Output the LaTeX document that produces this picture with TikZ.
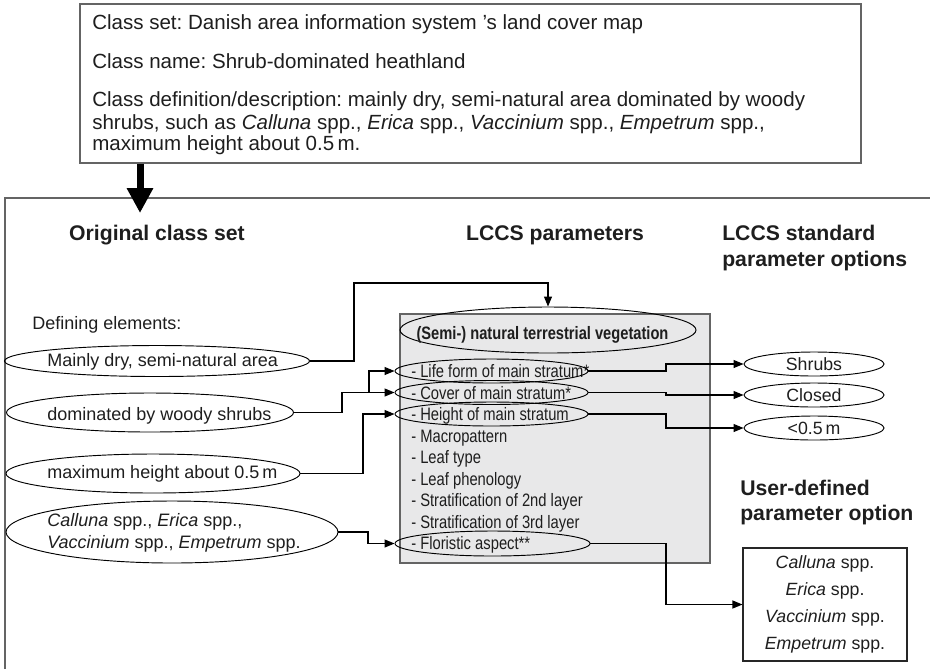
\documentclass[tikz,border=0pt]{standalone}
\usepackage{fontspec}
\setmainfont{Liberation Sans}
\newfontfamily\listfont[FakeStretch=0.82]{Liberation Sans}
\newfontfamily\semifont[FakeStretch=0.815]{Liberation Sans}
\usetikzlibrary{arrows.meta,shapes.geometric}
\frenchspacing

\definecolor{ink}{RGB}{30,30,30}
\definecolor{rulegray}{RGB}{100,100,100}
\definecolor{panelfill}{RGB}{232,232,233}

\tikzset{
  boxtext/.style={font=\fontsize{15.4}{18}\selectfont, anchor=base west, inner sep=0pt, text=ink},
  heading/.style={font=\fontsize{15.9}{19}\selectfont\bfseries, inner sep=0pt, text=ink},
  plain/.style={font=\fontsize{13.5}{16}\selectfont, inner sep=0pt, text=ink},
  listitem/.style={font=\listfont\fontsize{13.5}{16}\selectfont, anchor=base west, inner sep=0pt, text=ink},
  semitext/.style={font=\semifont\bfseries\fontsize{13.5}{16}\selectfont, anchor=base, inner sep=0pt, text=ink},
  oval/.style={ellipse, draw=black, line width=0.7pt, inner sep=0pt},
  itemoval/.style={oval, minimum width=144.75pt, minimum height=18pt},
  optoval/.style={oval, minimum width=105pt, minimum height=18pt,
    font=\fontsize{13.3}{16}\selectfont, text=ink},
  descbox/.style={rectangle, draw=rulegray, line width=1.1pt, inner sep=0pt,
    minimum width=585.75pt, minimum height=119.25pt},
  panelbox/.style={rectangle, draw=rulegray, fill=panelfill, line width=1pt, inner sep=0pt,
    minimum width=232.5pt, minimum height=186.75pt},
  speciesbox/.style={rectangle, draw=black!85, line width=0.8pt, inner sep=0pt,
    minimum width=123pt, minimum height=84.75pt, align=center,
    font=\fontsize{13.3}{20.25}\selectfont, text=ink},
  framerule/.style={draw=rulegray, line width=1.1pt},
  conn/.style={draw=black, line width=0.8pt, -{Triangle[length=7.5pt,width=6pt]}},
  bigarrow/.style={draw=black, line width=5.25pt, -{Triangle[length=18.75pt,width=18.75pt]}},
}

\begin{document}
\begin{tikzpicture}[x=0.75pt,y=-0.75pt]
\useasboundingbox (0,0) rectangle (930,669);

% outer frame, open towards the right and the bottom
\draw[framerule] (5,669) |- (930,198);

% class description
\node[descbox] (desc) at (470.5,83.5) {};
\node[boxtext] (d1) at (92,29) {Class set: Danish area information system ’s land cover map};
\node[boxtext] (d2) at (92,68) {Class name: Shrub-dominated heathland};
\node[boxtext] (d3) at (92,106) {Class definition/description: mainly dry, semi-natural area dominated by woody};
\node[boxtext] (d4) at (92,129) {shrubs, such as \textit{Calluna} spp., \textit{Erica} spp., \textit{Vaccinium} spp., \textit{Empetrum} spp.,};
\node[boxtext] (d5) at (92,150) {maximum height about 0.5\,m.};

\coordinate (tip) at (140,213);
\draw[bigarrow] (desc.south -| tip) -- (tip);

% column headings
\node[heading, anchor=base] (h1) at (157,240.5) {Original class set};
\node[heading, anchor=base] (h2) at (555,240.5) {LCCS parameters};
\node[heading, anchor=base west] (h3a) at (722,240.5) {LCCS standard};
\node[heading, anchor=base west] (h3b) at (722,266) {parameter options};
\node[heading, anchor=base west] (h4a) at (740,495.5) {User-defined};
\node[heading, anchor=base west] (h4b) at (740,520) {parameter option};

% defining elements of the original class
\node[plain, anchor=base west] (defl) at (32,329) {Defining elements:};

\node[oval, minimum width=228.75pt, minimum height=23.25pt] (e1) at (157,361) {};
\node[plain, anchor=base west] (e1t) at (47,366.5) {Mainly dry, semi-natural area};

\node[oval, minimum width=215.25pt, minimum height=29.25pt] (e2) at (150,412.5) {};
\node[plain, anchor=base west] (e2t) at (47,420) {dominated by woody shrubs};

\node[oval, minimum width=220.5pt, minimum height=29.25pt] (e3) at (153,473.5) {};
\node[plain, anchor=base west] (e3t) at (47,478.5) {maximum height about 0.5\,m};

\node[oval, minimum width=249pt, minimum height=46.5pt] (e4) at (172,532) {};
\node[plain, anchor=base west] (e4a) at (47,526) {\textit{Calluna} spp., \textit{Erica} spp.,};
\node[plain, anchor=base west] (e4b) at (47,548.5) {\textit{Vaccinium} spp., \textit{Empetrum} spp.};

% LCCS parameter panel
\node[panelbox] (panel) at (555,438.5) {};
\node[oval, minimum width=222pt, minimum height=34.5pt] (semi) at (548,330) {};
\node[semitext] (semit) at (542.5,339.5) {(Semi-) natural terrestrial vegetation};

\node[listitem] (p1) at (411,377.5) {- Life form of main stratum*};
\node[listitem] (p2) at (411,399) {- Cover of main stratum*};
\node[listitem] (p3) at (411,420.5) {- Height of main stratum};
\node[listitem] (p4) at (411,442) {- Macropattern};
\node[listitem] (p5) at (411,463.5) {- Leaf type};
\node[listitem] (p6) at (411,485) {- Leaf phenology};
\node[listitem] (p7) at (411,506.5) {- Stratification of 2nd layer};
\node[listitem] (p8) at (411,528) {- Stratification of 3rd layer};
\node[listitem] (p9) at (411,549.5) {- Floristic aspect**};

\node[itemoval] (life) at (491.5,371) {};
\node[itemoval] (cover) at (491.5,392.5) {};
\node[itemoval] (height) at (491.5,414) {};
\node[itemoval, minimum width=146.25pt, minimum height=18.75pt] (flor) at (492.5,543.5) {};

% standard and user-defined options
\node[optoval] (shrubs) at (814,364) {Shrubs};
\node[optoval] (closed) at (814,395) {Closed};
\node[optoval] (low) at (814,428) {<0.5\,m};

\node[speciesbox] (species) at (825,604.5)
  {\textit{Calluna} spp.\\ \textit{Erica} spp.\\ \textit{Vaccinium} spp.\\ \textit{Empetrum} spp.};

% bend positions of the connectors
\coordinate (b1) at (354,0);
\coordinate (top) at (0,283);
\coordinate (b2) at (342,0);
\coordinate (bl) at (369,0);
\coordinate (b3) at (363,0);
\coordinate (b4) at (368,0);
\coordinate (br) at (666,0);

% defining elements to LCCS parameters
\draw[conn] (e1.east) -| (b1 |- top) -| (semi.north);
\draw[conn] (e2.east) -| (b2 |- cover.west) -- (cover.west);
\draw[conn] (bl |- cover.west) |- (life.west);
\draw[conn] (e3.east) -| (b3 |- height.west) -- (height.west);
\draw[conn] (e4.east) -| (b4 |- flor.west) -- (flor.west);

% LCCS parameters to their options
\draw[conn] (life.east) -| (br |- shrubs.west) -- (shrubs.west);
\draw[conn] (cover.east) -| (br |- closed.west) -- (closed.west);
\draw[conn] (height.east) -| (br |- low.west) -- (low.west);
\draw[conn] (flor.east) -| (br |- species.west) -- (species.west);
\end{tikzpicture}
\end{document}
